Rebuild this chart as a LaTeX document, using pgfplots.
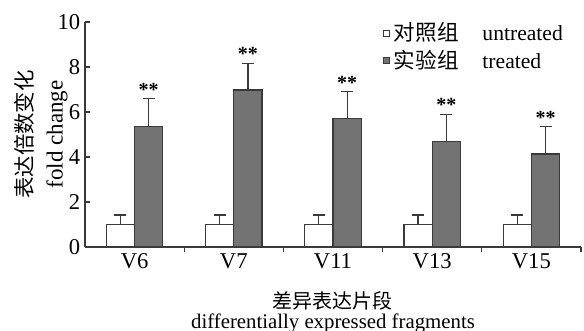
\documentclass[border=0pt]{standalone}
\usepackage{pgfplots}
\pgfplotsset{compat=1.18}
\usepackage{fontspec}
\setmainfont{Liberation Serif}
\newfontfamily\cjk{Noto Sans CJK SC}
\definecolor{bargray}{HTML}{737373}
\definecolor{edge}{HTML}{3A3A3A}
\begin{document}
\fontsize{9.5}{11}\selectfont
\begin{tikzpicture}
\begin{axis}[
  scale only axis,
  width=248pt, height=112.5pt,
  xmin=-0.5, xmax=4.5,
  ymin=0, ymax=10,
  axis x line*=bottom, axis y line*=left,
  axis line style={edge, line width=0.6pt},
  ytick={0,2,4,6,8,10},
  tick align=inside,
  major tick length=2.5pt,
  tick style={edge, line width=0.6pt},
  xtick={0.5,1.5,2.5,3.5,4.5},
  xticklabels={},
  extra x ticks={0,1,2,3,4},
  extra x tick labels={V6,V7,V11,V13,V15},
  extra x tick style={major tick length=0pt},
  /pgf/number format/assume math mode=true,
  ticklabel style={font=\fontsize{11.3}{12}\selectfont},
  yticklabel style={xshift=1pt},
  ybar=0pt,
  bar width=0.285,
  error bars/y dir=plus,
  error bars/y explicit,
  error bars/error bar style={edge, line width=0.6pt},
  error bars/error mark options={rotate=90, mark size=3pt, edge, line width=0.6pt},
  xlabel={{\cjk\fontsize{10}{11}\selectfont 差异表达片段}\\[-1pt]{\fontsize{10.4}{11}\selectfont differentially expressed fragments}},
  xlabel style={align=center, yshift=-2pt},
  ylabel={{\cjk\fontsize{10.7}{12}\selectfont 表达倍数变化}\\[4pt]{\fontsize{11.5}{12}\selectfont fold change}},
  ylabel style={align=center, yshift=-11.5pt},
  legend style={draw=none, fill=none, at={(0.595,1.025)}, anchor=north west,
    font=\fontsize{10.8}{12}\selectfont, row sep=-1pt, inner sep=1pt},
  legend cell align=left,
  legend image code/.code={\draw[#1, line width=0.5pt] (0pt,-1.6pt) rectangle (3.2pt,1.6pt);},
]
\addplot[fill=white, draw=edge, line width=0.6pt] coordinates {
  (0,1.0) +- (0,0.42)
  (1,1.0) +- (0,0.42)
  (2,1.0) +- (0,0.42)
  (3,1.0) +- (0,0.42)
  (4,1.0) +- (0,0.42)
};
\addlegendentry{{\cjk 对照组}\hspace{1.1em}untreated}
\addplot[fill=bargray, draw=edge, line width=0.6pt] coordinates {
  (0,5.35) +- (0,1.25)
  (1,6.98) +- (0,1.18)
  (2,5.70) +- (0,1.20)
  (3,4.68) +- (0,1.22)
  (4,4.13) +- (0,1.22)
};
\addlegendentry{{\cjk 实验组}\hspace{1.1em}treated}
\node[anchor=south, font=\bfseries\fontsize{10}{11}\selectfont, inner sep=1pt] at (axis cs:0.1425,6.60) {**};
\node[anchor=south, font=\bfseries\fontsize{10}{11}\selectfont, inner sep=1pt] at (axis cs:1.1425,8.16) {**};
\node[anchor=south, font=\bfseries\fontsize{10}{11}\selectfont, inner sep=1pt] at (axis cs:2.1425,6.90) {**};
\node[anchor=south, font=\bfseries\fontsize{10}{11}\selectfont, inner sep=1pt] at (axis cs:3.1425,5.90) {**};
\node[anchor=south, font=\bfseries\fontsize{10}{11}\selectfont, inner sep=1pt] at (axis cs:4.1425,5.35) {**};
\end{axis}
\pgfresetboundingbox
\path (-42.5pt,-42pt) rectangle (249.5pt,123.5pt);
\end{tikzpicture}
\end{document}
